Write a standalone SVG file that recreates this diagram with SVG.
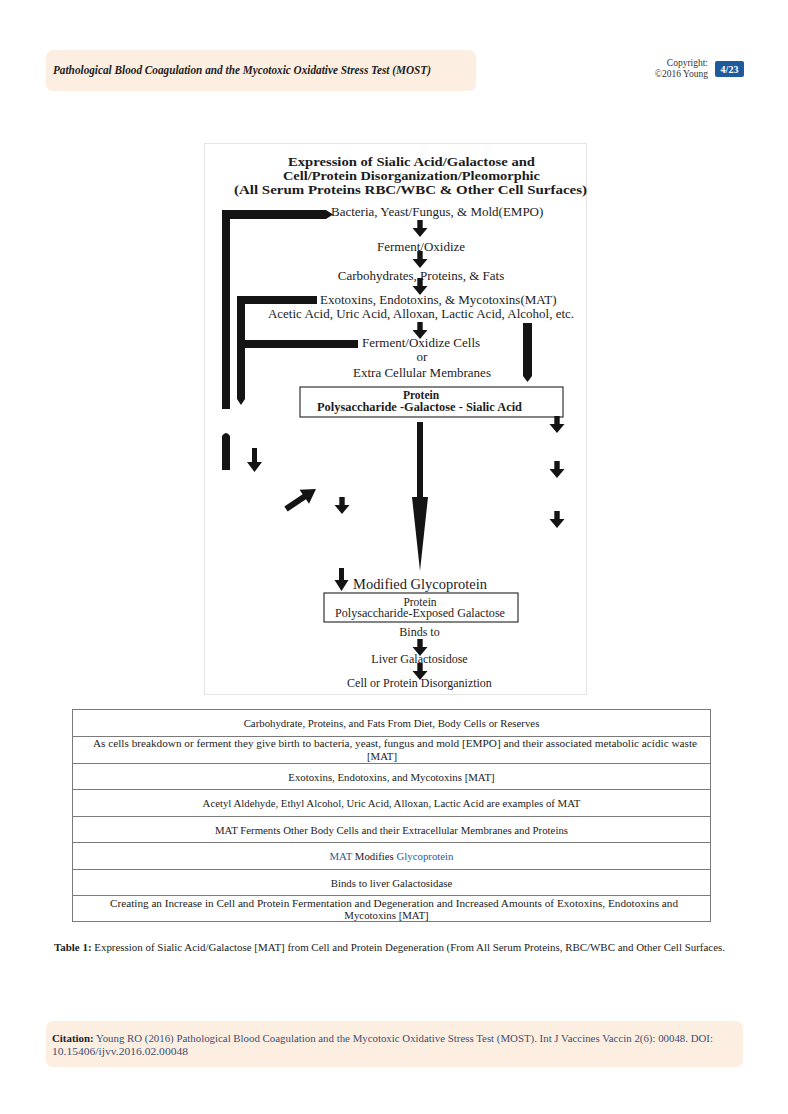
<svg xmlns="http://www.w3.org/2000/svg" xmlns:xlink="http://www.w3.org/1999/xlink" width="788" height="1114" viewBox="0 0 788 1114">
<style>
.peach{fill:#fdeee2}
.hdr{font-family:"Liberation Serif",serif;font-weight:bold;font-style:italic;font-size:12px;fill:#1e1e1e}
.sm{font-family:"Liberation Serif",serif;font-size:9.5px;fill:#333}
.fig{font-family:"Liberation Serif",serif;fill:#1c1c1c}
.ttl{font-size:13.5px;font-weight:bold}
.lbl{font-size:13px}
.bx{font-size:11.5px;font-weight:bold}
.bx2{font-size:11.5px}
.tb{font-family:"Liberation Serif",serif;font-size:10.8px;fill:#222;text-anchor:middle}
.cell{fill:#fff;stroke:#7a7a7a;stroke-width:1}
.ink{fill:#141414}
.box{fill:#fff;stroke:#333;stroke-width:1.2}
</style>
<defs>
<path id="dn" d="M-2.7,0 H2.7 V8 H7.5 L0,17 L-7.5,8 H-2.7 Z"/>
</defs>
<rect width="788" height="1114" fill="#fff"/>

<g id="header">
<rect class="peach" x="46" y="50" width="430" height="41" rx="7"/>
<text class="hdr" x="53" y="74" textLength="378" lengthAdjust="spacingAndGlyphs">Pathological Blood Coagulation and the Mycotoxic Oxidative Stress Test (MOST)</text>
<text class="sm" x="708" y="66" text-anchor="end">Copyright:</text>
<text class="sm" x="708" y="77" text-anchor="end">©2016 Young</text>
<rect x="715" y="61" width="29" height="16" rx="2" fill="#1e5a9c"/>
<text x="729.5" y="73" text-anchor="middle" font-family="Liberation Serif,serif" font-weight="bold" font-size="10" fill="#fff">4/23</text>
</g>

<g id="figure">
<rect x="204.5" y="143.5" width="382" height="551" fill="#fff" stroke="#e4e4e4" stroke-width="1"/>
<g id="title" class="fig ttl" text-anchor="middle">
<text x="411.5" y="166" textLength="247" lengthAdjust="spacingAndGlyphs">Expression of Sialic Acid/Galactose and</text>
<text x="411.5" y="180" textLength="257" lengthAdjust="spacingAndGlyphs">Cell/Protein Disorganization/Pleomorphic</text>
<text x="410.5" y="194" textLength="353" lengthAdjust="spacingAndGlyphs">(All Serum Proteins RBC/WBC &amp; Other Cell Surfaces)</text>
</g>
<g id="n-bacteria" class="fig lbl"><text x="331" y="216">Bacteria, Yeast/Fungus, &amp; Mold(EMPO)</text></g>
<g id="n-ferment" class="fig lbl"><text x="421" y="251" text-anchor="middle">Ferment/Oxidize</text></g>
<g id="n-carbs" class="fig lbl"><text x="421" y="280" text-anchor="middle">Carbohydrates, Proteins, &amp; Fats</text></g>
<g id="n-toxins" class="fig lbl">
<text x="320" y="304">Exotoxins, Endotoxins, &amp; Mycotoxins(MAT)</text>
<text x="421" y="318" text-anchor="middle">Acetic Acid, Uric Acid, Alloxan, Lactic Acid, Alcohol, etc.</text>
</g>
<g id="n-cells" class="fig lbl">
<text x="362" y="347">Ferment/Oxidize Cells</text>
<text x="422" y="361" text-anchor="middle">or</text>
<text x="422" y="377" text-anchor="middle">Extra Cellular Membranes</text>
</g>
<g id="n-box1">
<rect class="box" x="300" y="387" width="263" height="30"/>
<text class="fig bx" x="421" y="399" text-anchor="middle" font-size="11">Protein</text>
<text class="fig bx" x="419.5" y="411" text-anchor="middle" textLength="205" lengthAdjust="spacingAndGlyphs">Polysaccharide -Galactose - Sialic Acid</text>
</g>
<g id="n-modified"><text class="fig" x="353" y="589" font-size="15.5" textLength="134" lengthAdjust="spacingAndGlyphs">Modified Glycoprotein</text></g>
<g id="n-box2">
<rect class="box" x="324" y="593" width="194" height="29"/>
<text class="fig bx2" x="420" y="605.5" text-anchor="middle" font-size="11">Protein</text>
<text class="fig bx2" x="420" y="617" text-anchor="middle" textLength="170" lengthAdjust="spacingAndGlyphs">Polysaccharide-Exposed Galactose</text>
</g>
<g id="n-binds"><text class="fig" x="419.5" y="636" font-size="12" text-anchor="middle">Binds to</text></g>
<g id="n-liver"><text class="fig" x="419.5" y="663" font-size="12" text-anchor="middle">Liver Galactosidose</text></g>
<g id="n-disorg"><text class="fig" x="419.5" y="687" font-size="12" text-anchor="middle">Cell or Protein Disorganiztion</text></g>

<g id="connectors" class="ink">
<path d="M222,210 H326 L333,214.5 L326,219 H230 V409 H222 Z"/>
<path d="M222,436 Q226,430 230,436 V470 H222 Z"/>
<path d="M237,296 H317 V304 H245 V340 H358 V348 H245 V399 L241,405 L237,399 Z"/>
<path d="M523,323 H532 V376 L527.5,382 L523,376 Z"/>
<path d="M417,422 H423 V497 H428 L420,571 L412,497 H417 Z"/>
<use xlink:href="#dn" x="420" y="220"/>
<use xlink:href="#dn" x="420" y="251"/>
<use xlink:href="#dn" x="420" y="278"/>
<use xlink:href="#dn" x="420" y="322"/>
<use xlink:href="#dn" x="420" y="639"/>
<use xlink:href="#dn" x="420" y="663"/>
<use xlink:href="#dn" x="557" y="416"/>
<use xlink:href="#dn" x="557" y="461"/>
<use xlink:href="#dn" x="557" y="511"/>
<use xlink:href="#dn" x="342" y="497"/>
<path transform="translate(254.5,448)" d="M-2.5,0 H2.5 V14 H7.5 L0,24 L-7.5,14 H-2.5 Z"/>
<path transform="translate(341.5,568)" d="M-2.5,0 H2.5 V12 H7 L0,23 L-7,12 H-2.5 Z"/>
<path transform="translate(286,509) rotate(-33.7)" d="M0,-3 H22 V-8.5 L36,0 L22,8.5 V3 H0 Z"/>
</g>
</g>

<g id="table">
<rect class="cell" x="72.5" y="709.5" width="638" height="27"/>
<rect class="cell" x="72.5" y="736.5" width="638" height="27"/>
<rect class="cell" x="72.5" y="763.5" width="638" height="26"/>
<rect class="cell" x="72.5" y="789.5" width="638" height="27"/>
<rect class="cell" x="72.5" y="816.5" width="638" height="26"/>
<rect class="cell" x="72.5" y="842.5" width="638" height="27"/>
<rect class="cell" x="72.5" y="869.5" width="638" height="26"/>
<rect class="cell" x="72.5" y="895.5" width="638" height="26"/>
<text class="tb" x="391.5" y="726.5">Carbohydrate, Proteins, and Fats From Diet, Body Cells or Reserves</text>
<text class="tb" x="395" y="746.5" textLength="604" lengthAdjust="spacingAndGlyphs">As cells breakdown or ferment they give birth to bacteria, yeast, fungus and mold [EMPO] and their associated metabolic acidic waste</text>
<text class="tb" x="382" y="759.5">[MAT]</text>
<text class="tb" x="391.5" y="780.5">Exotoxins, Endotoxins, and Mycotoxins [MAT]</text>
<text class="tb" x="391.5" y="806.5">Acetyl Aldehyde, Ethyl Alcohol, Uric Acid, Alloxan, Lactic Acid are examples of MAT</text>
<text class="tb" x="391.5" y="833.5">MAT Ferments Other Body Cells and their Extracellular Membranes and Proteins</text>
<text class="tb" x="391.5" y="859.5"><tspan fill="#2a5a9a">MAT</tspan> Modifies <tspan fill="#2a5a9a">Glycoprotein</tspan></text>
<text class="tb" x="391.5" y="886.5">Binds to liver Galactosidase</text>
<text class="tb" x="394" y="906.5" textLength="568" lengthAdjust="spacingAndGlyphs">Creating an Increase in Cell and Protein Fermentation and Degeneration and Increased Amounts of Exotoxins, Endotoxins and</text>
<text class="tb" x="386.5" y="918.5">Mycotoxins [MAT]</text>
</g>

<g id="caption">
<text x="54" y="951" font-family="Liberation Serif,serif" font-size="10" fill="#222" textLength="671" lengthAdjust="spacingAndGlyphs"><tspan font-weight="bold">Table 1:</tspan> Expression of Sialic Acid/Galactose [MAT] from Cell and Protein Degeneration (From All Serum Proteins, RBC/WBC and Other Cell Surfaces.</text>
</g>

<g id="footer">
<rect class="peach" x="46" y="1021" width="697" height="46" rx="7"/>
<text x="52" y="1042" font-family="Liberation Serif,serif" font-size="10" fill="#3d4f70" textLength="661" lengthAdjust="spacingAndGlyphs"><tspan font-weight="bold" fill="#222">Citation:</tspan> Young RO (2016) Pathological Blood Coagulation and the Mycotoxic Oxidative Stress Test (MOST). Int J Vaccines Vaccin 2(6): 00048. DOI:</text>
<text x="52" y="1055" font-family="Liberation Serif,serif" font-size="10" fill="#3d4f70" textLength="136" lengthAdjust="spacingAndGlyphs">10.15406/ijvv.2016.02.00048</text>
</g>
</svg>
